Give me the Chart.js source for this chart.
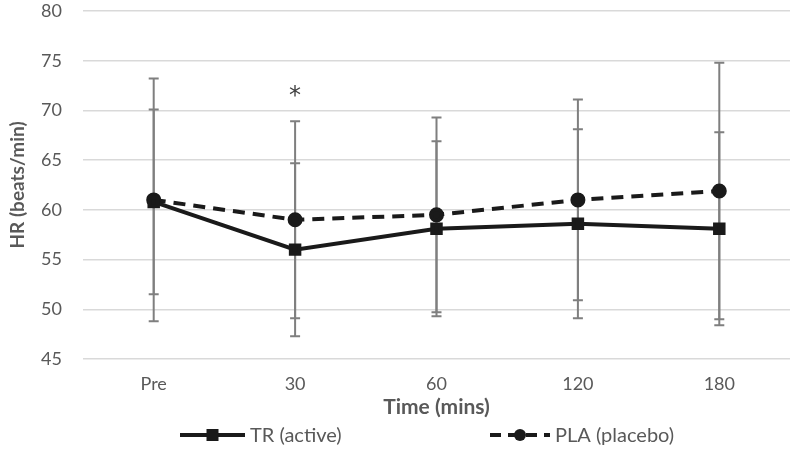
<!DOCTYPE html>
<html>
<head>
<meta charset="utf-8">
<script src="https://cdn.jsdelivr.net/npm/chart.js@4.4.1/dist/chart.umd.min.js"></script>
<style>
  html, body { margin: 0; padding: 0; background: #fff; }
  #wrap { width: 800px; height: 449px; }
</style>
</head>
<body>
<div id="wrap"><canvas id="hr-chart" width="800" height="449"></canvas></div>
<script>
const timeLabels = ["Pre", "30", "60", "120", "180"];
const trMeans = [60.8, 56.0, 58.1, 58.6, 58.1];
const trSD = [9.3, 8.7, 8.8, 9.5, 9.7];
const plaMeans = [61.0, 59.0, 59.5, 61.0, 61.9];
const plaSD = [12.2, 9.9, 9.8, 10.1, 12.9];
const starMarks = ["", "*", "", "", ""];
const starValues = [null, 71.8, null, null, null];

const textGrey = "#595959";
const fontName = "Lato, 'Open Sans', sans-serif";

// gray error bars, drawn under the lines
const errorBars = {
  id: "errorBars",
  beforeDatasetsDraw(chart) {
    const { ctx, scales } = chart;
    const groups = [
      [trMeans, trSD],
      [plaMeans, plaSD],
    ];
    ctx.save();
    ctx.strokeStyle = "#7f7f7f";
    ctx.lineWidth = 2;
    groups.forEach(([means, sd]) => {
      means.forEach((m, i) => {
        const x = scales.x.getPixelForValue(i);
        const top = scales.y.getPixelForValue(m + sd[i]);
        const bot = scales.y.getPixelForValue(m - sd[i]);
        ctx.beginPath();
        ctx.moveTo(x, top);
        ctx.lineTo(x, bot);
        ctx.moveTo(x - 5, top);
        ctx.lineTo(x + 5, top);
        ctx.moveTo(x - 5, bot);
        ctx.lineTo(x + 5, bot);
        ctx.stroke();
      });
    });
    ctx.restore();
  },
};

// asterisk + legend with line and marker samples
const extras = {
  id: "extras",
  afterDraw(chart) {
    const { ctx, scales } = chart;
    ctx.save();
    ctx.fillStyle = "#404040";
    ctx.font = "24px 'DejaVu Sans', sans-serif";
    ctx.textAlign = "center";
    ctx.textBaseline = "middle";
    starValues.forEach((v, i) => {
      if (v == null) return;
      ctx.fillText(starMarks[i], scales.x.getPixelForValue(i), scales.y.getPixelForValue(v) + 4);
    });

    const y = 435;
    const items = [
      { x0: 180, x1: 245, ds: chart.data.datasets[0] },
      { x0: 490, x1: 550, ds: chart.data.datasets[1] },
    ];
    items.forEach((it) => {
      ctx.strokeStyle = "#1a1a1a";
      ctx.fillStyle = "#1a1a1a";
      ctx.lineWidth = 4;
      ctx.setLineDash(it.ds.borderDash ? [11, 7] : []);
      ctx.beginPath();
      ctx.moveTo(it.x0, y);
      ctx.lineTo(it.x1, y);
      ctx.stroke();
      ctx.setLineDash([]);
      const cx = (it.x0 + it.x1) / 2;
      if (it.ds.pointStyle === "rect") {
        ctx.fillRect(cx - 6, y - 6, 12, 12);
      } else {
        ctx.beginPath();
        ctx.arc(cx, y, 6, 0, Math.PI * 2);
        ctx.fill();
      }
      ctx.fillStyle = textGrey;
      ctx.font = "20px " + fontName;
      ctx.textAlign = "left";
      ctx.fillText(it.ds.label, it.x1 + 5, y + 1);
    });
    ctx.restore();
  },
};

new Chart(document.getElementById("hr-chart"), {
  type: "line",
  data: {
    labels: timeLabels,
    datasets: [
      {
        label: "TR (active)",
        data: trMeans,
        borderColor: "#1a1a1a",
        backgroundColor: "#1a1a1a",
        borderWidth: 4,
        pointStyle: "rect",
        pointRadius: 6,
        pointHoverRadius: 6,
        tension: 0,
      },
      {
        label: "PLA (placebo)",
        data: plaMeans,
        borderColor: "#1a1a1a",
        backgroundColor: "#1a1a1a",
        borderWidth: 4,
        borderDash: [12, 8],
        pointStyle: "circle",
        pointRadius: 5.5,
        pointHoverRadius: 5.5,
        tension: 0,
      },
    ],
  },
  options: {
    responsive: false,
    animation: false,
    devicePixelRatio: 1,
    layout: { padding: { top: 11, right: 0, left: 0, bottom: 29 } },
    plugins: {
      legend: { display: false },
      tooltip: { enabled: false },
    },
    scales: {
      x: {
        offset: true,
        grid: { display: false, drawTicks: false },
        border: { display: false },
        ticks: { color: textGrey, font: { family: fontName, size: 18 }, padding: 14 },
        title: {
          display: true,
          text: "Time (mins)",
          color: textGrey,
          font: { family: fontName, size: 21, weight: "bold" },
          padding: { top: 0, bottom: 0 },
        },
        afterFit(scale) {
          scale.height = 61;
          scale.paddingLeft = 0;
          scale.paddingRight = 0;
        },
      },
      y: {
        min: 45,
        max: 80,
        ticks: { stepSize: 5, color: textGrey, font: { family: fontName, size: 18 }, padding: 21 },
        grid: { color: "#d9d9d9", lineWidth: 1.5, drawTicks: false },
        border: { display: false },
        title: {
          display: true,
          text: "HR (beats/min)",
          color: textGrey,
          font: { family: fontName, size: 19, weight: "bold" },
          padding: { top: 6, bottom: 0 },
        },
        afterFit(scale) {
          scale.width = 83;
          scale.paddingTop = 0;
          scale.paddingBottom = 0;
        },
      },
    },
  },
  plugins: [errorBars, extras],
});
</script>
</body>
</html>
